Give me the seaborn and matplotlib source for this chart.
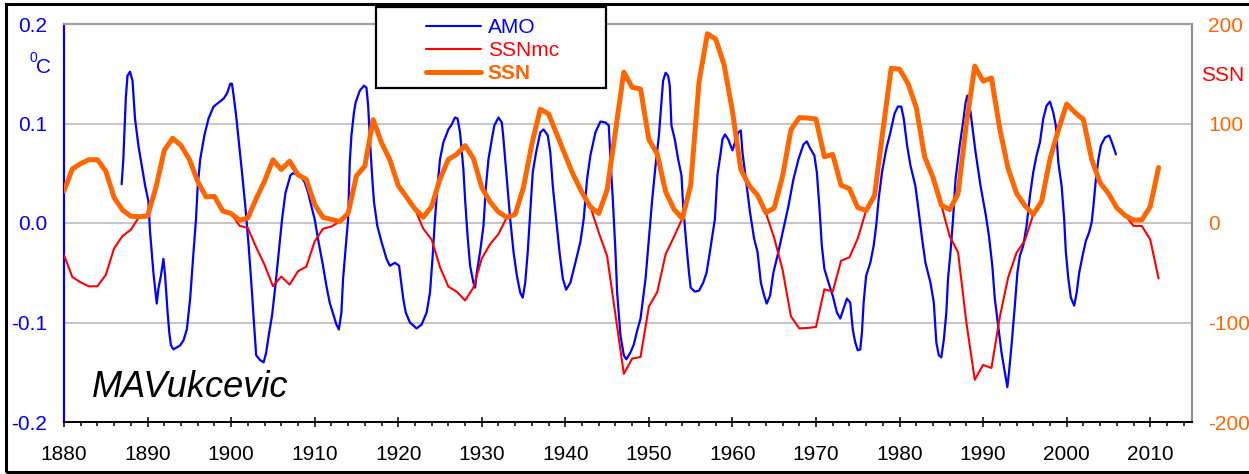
import matplotlib
matplotlib.use("Agg")
import matplotlib.pyplot as plt
import seaborn as sns
from matplotlib.patches import Rectangle
from matplotlib.lines import Line2D
from matplotlib.ticker import MultipleLocator

# ---------------- data ----------------
ssn_years = list(range(1880, 2012))
ssn_values = [
    32.3, 54.3, 59.7, 63.7, 63.5, 52.2, 25.4, 13.1, 6.8, 6.3,
    7.1, 35.6, 73.0, 85.1, 78.0, 64.0, 41.8, 26.2, 26.7, 12.1,
    9.5, 2.7, 5.0, 24.4, 42.0, 63.5, 53.8, 62.0, 48.5, 43.9,
    18.6, 5.7, 3.6, 1.4, 9.6, 47.4, 57.1, 103.9, 80.6, 63.6,
    37.6, 26.1, 14.2, 5.8, 16.7, 44.3, 63.9, 69.0, 77.8, 64.9,
    35.7, 21.2, 11.1, 5.7, 8.7, 36.1, 79.7, 114.4, 109.6, 88.8,
    67.8, 47.5, 30.6, 16.3, 9.6, 33.2, 92.6, 151.6, 136.3, 134.7,
    83.9, 69.4, 31.5, 13.9, 4.4, 38.0, 141.7, 190.2, 184.8, 159.0,
    112.3, 53.9, 37.6, 27.9, 10.2, 15.1, 47.0, 93.8, 105.9, 105.5,
    104.5, 66.6, 68.9, 38.0, 34.5, 15.5, 12.6, 27.5, 92.5, 155.4,
    154.6, 140.4, 115.9, 66.6, 45.9, 17.9, 13.4, 29.4, 100.2, 157.6,
    142.6, 145.7, 94.3, 54.6, 29.9, 17.5, 8.6, 21.5, 64.3, 93.3,
    119.6, 111.0, 104.0, 63.7, 40.4, 29.8, 15.2, 7.5, 2.9, 3.1,
    16.5, 55.7,
]
ssnmc_values = [
    -32.3, -54.3, -59.7, -63.7, -63.5, -52.2, -25.4, -13.1, -6.8,
    6.3, 7.1, 35.6, 73.0, 85.1, 78.0, 64.0, 41.8, 26.2, 26.7, 12.1, 9.5,
    -2.7, -5.0, -24.4, -42.0, -63.5, -53.8, -62.0, -48.5, -43.9, -18.6, -5.7, -3.6,
    1.4, 9.6, 47.4, 57.1, 103.9, 80.6, 63.6, 37.6, 26.1, 14.2,
    -5.8, -16.7, -44.3, -63.9, -69.0, -77.8, -64.9, -35.7, -21.2, -11.1,
    5.7, 8.7, 36.1, 79.7, 114.4, 109.6, 88.8, 67.8, 47.5, 30.6, 16.3,
    -9.6, -33.2, -92.6, -151.6, -136.3, -134.7, -83.9, -69.4, -31.5, -13.9,
    4.4, 38.0, 141.7, 190.2, 184.8, 159.0, 112.3, 53.9, 37.6, 27.9, 10.2,
    -15.1, -47.0, -93.8, -105.9, -105.5, -104.5, -66.6, -68.9, -38.0, -34.5, -15.5,
    12.6, 27.5, 92.5, 155.4, 154.6, 140.4, 115.9, 66.6, 45.9, 17.9,
    -13.4, -29.4, -100.2, -157.6, -142.6, -145.7, -94.3, -54.6, -29.9, -17.5,
    8.6, 21.5, 64.3, 93.3, 119.6, 111.0, 104.0, 63.7, 40.4, 29.8, 15.2, 7.5,
    -2.9, -3.1, -16.5, -55.7,
]

amo_years = [
    1886.9, 1887.1, 1887.3, 1887.4, 1887.6, 1887.9, 1888.2, 1888.5, 1888.9, 1889.3,
    1889.7, 1890.1, 1890.3, 1890.5, 1890.7, 1890.9, 1891.1, 1891.3, 1891.6, 1891.9,
    1892.1, 1892.4, 1892.6, 1892.8, 1893.1, 1893.9, 1894.3, 1894.7, 1895.1, 1895.5,
    1895.8, 1896.0, 1896.3, 1896.8, 1897.3, 1897.9, 1898.5, 1899.1, 1899.5, 1899.9,
    1900.1, 1900.3, 1900.6, 1900.9, 1901.3, 1901.7, 1902.1, 1902.5, 1902.7, 1903.0,
    1903.5, 1903.9, 1904.2, 1904.5, 1904.9, 1905.3, 1905.7, 1906.1, 1906.5, 1907.1,
    1907.4, 1908.25, 1908.8, 1909.2, 1909.6, 1910.0, 1910.4, 1911.0, 1911.4, 1911.8,
    1912.2, 1912.6, 1912.9, 1913.2, 1913.4, 1913.8, 1914.0, 1914.2, 1914.4, 1914.7,
    1914.9, 1915.4, 1915.9, 1916.2, 1916.4, 1916.7, 1916.9, 1917.1, 1917.5, 1918.0,
    1918.6, 1919.0, 1919.6, 1920.1, 1920.3, 1920.6, 1920.9, 1921.4, 1922.2, 1922.8,
    1923.4, 1923.8, 1924.1, 1924.4, 1924.7, 1925.0, 1925.4, 1926.0, 1926.4, 1926.8,
    1927.1, 1927.4, 1927.8, 1928.0, 1928.3, 1928.6, 1929.0, 1929.2, 1929.4, 1929.8,
    1930.2, 1930.5, 1930.8, 1931.2, 1931.5, 1932.0, 1932.4, 1932.6, 1933.0, 1933.4,
    1933.8, 1934.2, 1934.6, 1934.9, 1935.2, 1935.5, 1935.8, 1936.1, 1936.5, 1937.0,
    1937.4, 1937.9, 1938.2, 1938.5, 1938.9, 1939.3, 1939.7, 1940.1, 1940.6, 1941.2,
    1941.8, 1942.2, 1942.6, 1943.0, 1943.6, 1944.2, 1944.8, 1945.2, 1945.4, 1945.7,
    1946.0, 1946.2, 1946.6, 1947.0, 1947.3, 1947.8, 1948.2, 1948.6, 1949.0, 1949.6,
    1950.0, 1950.4, 1950.8, 1951.2, 1951.5, 1951.7, 1952.0, 1952.3, 1952.5, 1952.7,
    1953.1, 1953.5, 1953.9, 1954.1, 1954.5, 1954.8, 1955.0, 1955.5, 1956.0, 1956.5,
    1956.9, 1957.3, 1957.9, 1958.2, 1958.6, 1958.8, 1959.1, 1959.5, 1960.0, 1960.3,
    1960.7, 1961.0, 1961.2, 1961.6, 1962.1, 1962.6, 1963.0, 1963.4, 1963.8, 1964.1,
    1964.5, 1964.9, 1965.5, 1966.1, 1966.7, 1967.3, 1967.9, 1968.5, 1968.9, 1969.3,
    1969.8, 1970.1, 1970.4, 1970.7, 1971.0, 1971.5, 1972.0, 1972.5, 1972.9, 1973.3,
    1973.7, 1974.1, 1974.4, 1974.7, 1975.0, 1975.3, 1975.5, 1975.7, 1976.0, 1976.5,
    1976.9, 1977.2, 1977.5, 1977.9, 1978.4, 1978.9, 1979.4, 1979.8, 1980.2, 1980.5,
    1980.9, 1981.3, 1981.9, 1982.3, 1982.7, 1983.1, 1983.7, 1984.1, 1984.4, 1984.7,
    1985.0, 1985.3, 1985.6, 1985.8, 1986.1, 1986.4, 1986.7, 1987.2, 1987.6, 1987.9,
    1988.1, 1988.5, 1989.1, 1989.7, 1990.3, 1990.7, 1991.1, 1991.4, 1991.8, 1992.2,
    1992.6, 1992.9, 1993.1, 1993.4, 1993.8, 1994.1, 1994.4, 1994.8, 1995.2, 1995.6,
    1996.0, 1996.4, 1996.8, 1997.2, 1997.6, 1998.0, 1998.4, 1998.7, 1999.0, 1999.4,
    1999.7, 1999.9, 2000.2, 2000.5, 2000.9, 2001.2, 2001.5, 2001.9, 2002.3, 2002.7,
    2003.0, 2003.2, 2003.5, 2003.8, 2004.1, 2004.6, 2005.1, 2005.5, 2005.9,
]
amo_values = [
    0.039, 0.064, 0.105, 0.126, 0.148, 0.152, 0.143, 0.105, 0.078, 0.058,
    0.038, 0.022, -0.009, -0.029, -0.050, -0.066, -0.081, -0.066, -0.053, -0.036,
    -0.053, -0.090, -0.110, -0.123, -0.127, -0.123, -0.118, -0.107, -0.076, -0.029,
    0.004, 0.037, 0.064, 0.088, 0.105, 0.117, 0.121, 0.125, 0.130, 0.140,
    0.140, 0.128, 0.108, 0.084, 0.051, 0.017, -0.023, -0.070, -0.096, -0.133,
    -0.138, -0.140, -0.130, -0.113, -0.093, -0.063, -0.029, 0.004, 0.030, 0.048,
    0.050, 0.048, 0.041, 0.031, 0.017, 0.004, -0.016, -0.043, -0.063, -0.080,
    -0.091, -0.102, -0.107, -0.090, -0.056, -0.016, 0.004, 0.061, 0.088, 0.111,
    0.121, 0.133, 0.138, 0.136, 0.118, 0.071, 0.044, 0.021, -0.003, -0.019,
    -0.036, -0.043, -0.040, -0.043, -0.056, -0.076, -0.090, -0.100, -0.106, -0.102,
    -0.090, -0.070, -0.036, 0.004, 0.037, 0.064, 0.081, 0.094, 0.099, 0.106,
    0.105, 0.091, 0.054, 0.024, -0.013, -0.043, -0.060, -0.065, -0.050, -0.029,
    -0.003, 0.037, 0.064, 0.084, 0.098, 0.106, 0.101, 0.084, 0.044, 0.004,
    -0.029, -0.053, -0.070, -0.075, -0.060, -0.029, 0.011, 0.051, 0.071, 0.091,
    0.094, 0.088, 0.071, 0.037, 0.004, -0.029, -0.056, -0.067, -0.060, -0.040,
    -0.019, 0.004, 0.044, 0.068, 0.091, 0.102, 0.101, 0.098, 0.064, 0.021,
    -0.029, -0.070, -0.113, -0.133, -0.137, -0.130, -0.122, -0.108, -0.096, -0.056,
    -0.016, 0.024, 0.058, 0.088, 0.121, 0.143, 0.151, 0.148, 0.138, 0.098,
    0.084, 0.064, 0.048, 0.017, -0.023, -0.050, -0.065, -0.069, -0.068, -0.060,
    -0.050, -0.029, 0.004, 0.048, 0.071, 0.084, 0.089, 0.084, 0.073, 0.081,
    0.091, 0.093, 0.071, 0.044, 0.011, -0.016, -0.029, -0.060, -0.073, -0.081,
    -0.073, -0.050, -0.029, -0.006, 0.017, 0.044, 0.064, 0.079, 0.082, 0.075,
    0.068, 0.051, 0.017, -0.023, -0.046, -0.060, -0.073, -0.090, -0.096, -0.086,
    -0.076, -0.080, -0.107, -0.120, -0.128, -0.127, -0.110, -0.080, -0.053, -0.040,
    -0.023, -0.003, 0.024, 0.051, 0.074, 0.091, 0.110, 0.117, 0.117, 0.105,
    0.078, 0.058, 0.037, 0.011, -0.016, -0.040, -0.060, -0.080, -0.120, -0.133,
    -0.135, -0.117, -0.090, -0.056, -0.029, 0.004, 0.044, 0.078, 0.101, 0.121,
    0.128, 0.111, 0.071, 0.037, 0.009, -0.013, -0.043, -0.076, -0.103, -0.130,
    -0.150, -0.165, -0.150, -0.123, -0.083, -0.050, -0.033, -0.023, -0.003, 0.027,
    0.051, 0.068, 0.081, 0.105, 0.118, 0.122, 0.111, 0.098, 0.061, 0.037,
    0.004, -0.029, -0.056, -0.075, -0.083, -0.070, -0.050, -0.033, -0.018, -0.009,
    0.001, 0.017, 0.044, 0.064, 0.078, 0.086, 0.088, 0.079, 0.069,
]

x_tick_values = [1880, 1890, 1900, 1910, 1920, 1930, 1940, 1950, 1960, 1970, 1980, 1990, 2000, 2010]
x_tick_labels = [str(v) for v in x_tick_values]
left_tick_values = [-0.2, -0.1, 0.0, 0.1, 0.2]
left_tick_labels = ["-0.2", "-0.1", "0.0", "0.1", "0.2"]
right_tick_values = [-200, -100, 0, 100, 200]
right_tick_labels = ["-200", "-100", "0", "100", "200"]
legend_labels = ["AMO", "SSNmc", "SSN"]

# ---------------- style ----------------
sns.set_style("white")
plt.rcParams['font.family'] = ['Liberation Sans', 'DejaVu Sans']

BLUE = '#0000FF'
RED = '#FF0000'
ORANGE = '#FF6600'

W, H = 1249, 474
fig = plt.figure(figsize=(W / 100, H / 100), dpi=100)


def fx(px):
    return px / W


def fy(py):
    return 1 - py / H


ax = fig.add_axes([fx(64), fy(422), fx(1192) - fx(64), fy(24) - fy(422)])

sns.lineplot(x=amo_years, y=amo_values, ax=ax, color=BLUE, lw=1.6,
             estimator=None, sort=False)
ax.set_xlim(1880, 2015)
ax.set_ylim(-0.2, 0.2)

ax2 = ax.twinx()
sns.lineplot(x=ssn_years, y=ssnmc_values, ax=ax2, color=RED, lw=1.5,
             estimator=None, sort=False)
sns.lineplot(x=ssn_years, y=ssn_values, ax=ax2, color=ORANGE, lw=3.6,
             estimator=None, sort=False)
ax2.set_ylim(-200, 200)
ax2.set_xlim(1880, 2015)

for a in (ax, ax2):
    a.set_xlabel("")
    a.set_ylabel("")

# primary axis ticks
ax.set_yticks(left_tick_values)
ax.set_yticklabels(left_tick_labels)
ax.tick_params(axis='y', length=0, pad=12, labelcolor=BLUE, labelsize=15)
ax.set_xticks(x_tick_values)
ax.set_xticklabels(x_tick_labels)
ax.xaxis.set_minor_locator(MultipleLocator(2))
ax.tick_params(axis='x', which='major', direction='inout', length=7, width=1.1,
               color='black', labelcolor='black', labelsize=15, pad=13, bottom=True)
ax.tick_params(axis='x', which='minor', direction='out', length=3.2, width=1.1,
               color='black', bottom=True)

ax2.set_yticks(right_tick_values)
ax2.set_yticklabels(right_tick_labels)
ax2.tick_params(axis='y', length=0, pad=11.5, labelcolor=ORANGE, labelsize=15)

ax.yaxis.grid(True, color='#c0c0c0', lw=1.3)
ax.xaxis.grid(False)
ax.set_axisbelow(True)
ax2.grid(False)

ax.spines['left'].set_color(BLUE)
ax.spines['left'].set_linewidth(1.6)
ax.spines['bottom'].set_color('black')
ax.spines['bottom'].set_linewidth(1.4)
ax.spines['top'].set_color('#a0a0a0')
ax.spines['top'].set_linewidth(1.6)
ax.spines['right'].set_color('#909090')
ax.spines['right'].set_linewidth(1.6)
for s in ax2.spines.values():
    s.set_visible(False)

# legend box
fig.add_artist(Rectangle((fx(376), fy(88)), fx(606) - fx(376), fy(7) - fy(88),
                         transform=fig.transFigure, facecolor='white',
                         edgecolor='black', lw=1.6, zorder=5))
handles = [Line2D([], [], color=BLUE, lw=1.5),
           Line2D([], [], color=RED, lw=1.5),
           Line2D([], [], color=ORANGE, lw=3.6)]
leg = fig.legend(handles, legend_labels, loc='upper left',
                 bbox_to_anchor=(fx(416), fy(8)), bbox_transform=fig.transFigure,
                 frameon=False, borderpad=0, handlelength=2.64, handletextpad=0.3,
                 labelspacing=0.18, fontsize=15)
leg.set_zorder(6)
for t, c in zip(leg.get_texts(), [BLUE, RED, ORANGE]):
    t.set_color(c)
leg.get_texts()[2].set_fontweight('bold')

# annotations
fig.text(fx(29), fy(62), "0", fontsize=10, color=BLUE, va='baseline')
fig.text(fx(36), fy(73), "C", fontsize=15, color=BLUE, va='baseline')
fig.text(fx(1201), fy(81), "SSN", fontsize=15, color=RED, va='baseline')
fig.text(fx(92), fy(397), "MAVukcevic", fontsize=26, style='italic',
         color='black', va='baseline')

# chart border
fig.add_artist(Rectangle((fx(6), fy(472)), fx(1262) - fx(6), fy(4) - fy(472),
                         transform=fig.transFigure, fill=False,
                         edgecolor='black', lw=2.2, zorder=10, clip_on=False))

fig.savefig("out.png", dpi=100)
